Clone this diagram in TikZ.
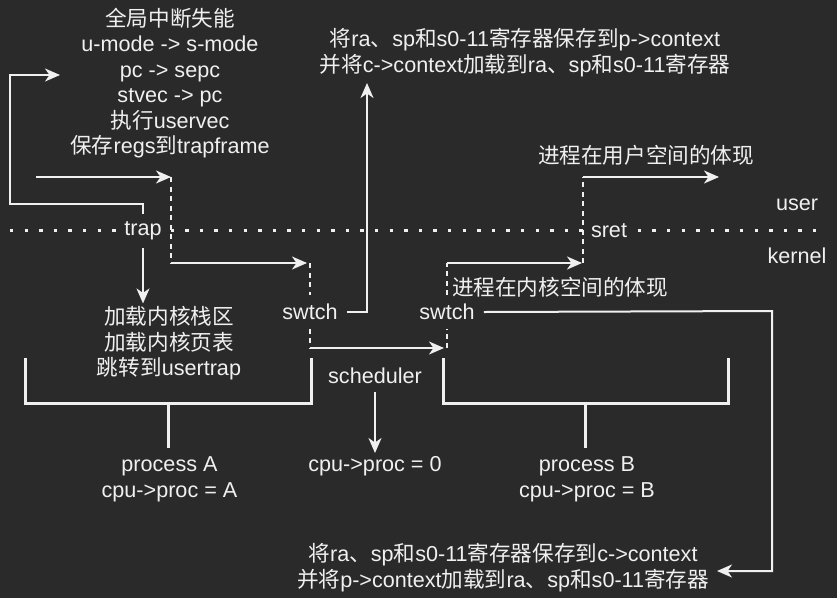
\documentclass[tikz,border=0pt]{standalone}
\usepackage{fontspec}
\setmainfont{Liberation Sans}
\newfontfamily\cjkfont{Noto Sans CJK SC}
\newcommand{\cj}[1]{{\cjkfont #1}}
\usetikzlibrary{arrows.meta}
\definecolor{bg}{HTML}{2A2A2A}
\definecolor{fg}{HTML}{F0F0F0}
\begin{document}
\begin{tikzpicture}[x=1pt,y=-1pt,
  txt/.style={text=fg, align=center, font=\fontsize{21.6}{25.5}\selectfont, inner sep=3pt},
  lbl/.style={txt, fill=bg},
  swlbl/.style={txt, inner xsep=9pt, minimum height=33pt},
  conn/.style={draw=fg, line width=2pt},
  arr/.style={conn, -{Stealth[length=15pt,width=13pt,inset=4.5pt]}},
  dsh/.style={conn, dash pattern=on 5pt off 4.5pt},
  brk/.style={draw=fg, line width=3pt},
  layerline/.style={draw=fg, line width=3.3pt, dash pattern=on 3.3pt off 11.3pt}
]
\fill[bg] (0,0) rectangle (837,598);
\useasboundingbox (0,0) rectangle (837,598);
\draw[layerline] (10,230.5) -- (827,230.5);

% text nodes
\node[txt] (trapinfo) at (170,83) {\cj{全局中断失能}\\u-mode -> s-mode\\pc -> sepc\\stvec -> pc\\\cj{执行}uservec\\\cj{保存}regs\cj{到}trapframe};
\node[txt] (ctx1) at (525,52.5) {\cj{将}ra\cj{、}sp\cj{和}s0-11\cj{寄存器保存到}p->context\\\cj{并将}c->context\cj{加载到}ra\cj{、}sp\cj{和}s0-11\cj{寄存器}};
\node[txt] (userproc) at (646,155) {\cj{进程在用户空间的体现}};
\node[txt] (kernproc) at (560,287) {\cj{进程在内核空间的体现}};
\node[txt] (kinfo) at (169,343.5) {\cj{加载内核栈区}\\\cj{加载内核页表}\\\cj{跳转到}usertrap};
\node[lbl, inner ysep=8pt] (trap) at (143,231) {trap};
\node[lbl] (sret) at (609,231) {sret};
\node[swlbl] (swA) at (310,312) {swtch};
\node[swlbl] (swB) at (447,312) {swtch};
\node[txt, inner ysep=8pt] (sched) at (375,376) {scheduler};
\node[txt] (cpu0) at (375,466) {cpu->proc = 0};
\node[txt] (procA) at (169.5,479.5) {process A\\cpu->proc = A};
\node[txt] (procB) at (587,479.5) {process B\\cpu->proc = B};
\node[txt] (ctx2) at (503,567.5) {\cj{将}ra\cj{、}sp\cj{和}s0-11\cj{寄存器保存到}c->context\\\cj{并将}p->context\cj{加载到}ra\cj{、}sp\cj{和}s0-11\cj{寄存器}};
\node[txt] (user) at (797,205) {user};
\node[txt] (kernel) at (797,256) {kernel};

% coordinates
\coordinate (loopin) at (60,75);
\coordinate (trapsrc) at (36,177);
\coordinate (trapin) at (171,177);
\coordinate (p1) at (171,263);
\coordinate (p2) at (310,348);
\coordinate (p3) at (583,263);
\coordinate (p4) at (583,177);
\coordinate (userin) at (719,177);
\coordinate (ctx1in) at (367,83);
\coordinate (rcorner) at (772,311);
\coordinate (ctx2in) at (717,571);

% connectors
\draw[conn, -{Stealth[length=15pt,width=13pt,inset=4.5pt]}] (trap.north) |- (10,203.5) |- (loopin);
\draw[arr] (trapsrc) -- (trapin);
\draw[dsh] (trapin) -- (p1);
\draw[arr, shorten >=3pt] (p1) -- (p1 -| swA.north);
\draw[dsh] (p1 -| swA.north) -- (swA.north);
\draw[dsh] (swA.south) -- (p2);
\draw[arr, shorten >=3pt] (p2) -- (p2 -| swB.south);
\draw[dsh] (p2 -| swB.south) -- (swB.south);
\draw[dsh] (swB.north) -- (swB.north |- p1);
\draw[arr, shorten >=1pt] (swB.north |- p1) -- (p3);
\draw[dsh] (p3) -- (p4);
\draw[arr] (p4) -- (userin);
\draw[arr] (swA.east) -| (ctx1in);
\draw[arr] (swB.east) -- (rcorner) |- (ctx2in);
\draw[arr] (trap.south) -- (trap.south |- kinfo.north);
\draw[arr] (sched.south) -- (cpu0.north);

% process brackets
\draw[brk] (25,358) -- (25,403) -- (311,403) -- (311,358);
\draw[brk] (168,403) -- (168,448);
\draw[brk] (443,358) -- (443,403) -- (728,403) -- (728,358);
\draw[brk] (585,403) -- (585,448);
\end{tikzpicture}
\end{document}
